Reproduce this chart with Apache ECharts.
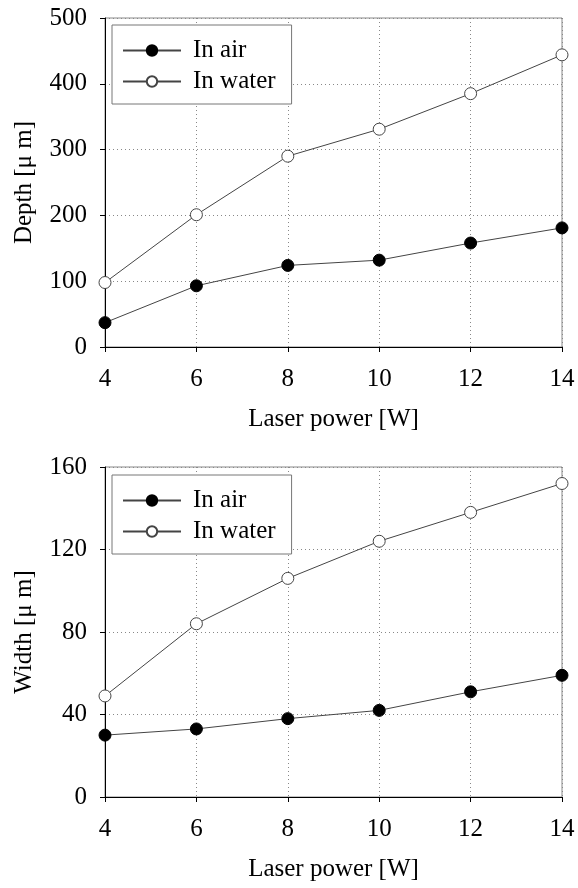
<!DOCTYPE html>
<html>
<head>
<meta charset="utf-8">
<script src="https://cdn.jsdelivr.net/npm/echarts@6/dist/echarts.min.js"></script>
<style>
  html, body { margin: 0; padding: 0; background: #fff; }
  #vis { width: 578px; height: 888px; }
</style>
</head>
<body>
<div id="vis"></div>
<script>
const power = [4, 6, 8, 10, 12, 14]
const depthAir = [37, 93, 124, 132, 158, 181]
const depthWater = [98, 201, 290, 331, 385, 444]
const widthAir = [30, 33, 38, 42, 51, 59]
const widthWater = [49, 84, 106, 124, 138, 152]

const font = 'Liberation Serif'
const fontSize = 25

function pairs (ys) {
  return power.map((x, i) => [x, ys[i]])
}

function xAxis (gridIndex) {
  return {
    gridIndex,
    type: 'value',
    min: 4,
    max: 14,
    interval: 2,
    name: 'Laser power [W]',
    nameLocation: 'middle',
    nameGap: 60,
    nameTextStyle: { fontFamily: font, fontSize, color: '#000' },
    axisLine: { lineStyle: { color: '#000', width: 1 } },
    axisTick: { show: true, length: 5, lineStyle: { color: '#000' } },
    axisLabel: { fontFamily: font, fontSize, color: '#000', margin: 20 },
    splitLine: { show: true, lineStyle: { color: '#888', type: [1, 3], width: 1 } }
  }
}

function yAxis (gridIndex, name, max, interval) {
  return {
    gridIndex,
    type: 'value',
    min: 0,
    max,
    interval,
    name,
    nameLocation: 'middle',
    nameGap: 68,
    nameTextStyle: { fontFamily: font, fontSize, color: '#000' },
    axisLine: { show: true, lineStyle: { color: '#000', width: 1 } },
    axisTick: { show: true, length: 5, lineStyle: { color: '#000' } },
    axisLabel: { fontFamily: font, fontSize, color: '#000', margin: 18 },
    splitLine: { show: true, lineStyle: { color: '#888', type: [1, 3], width: 1 } }
  }
}

function legend (top) {
  return {
    orient: 'vertical',
    left: 112,
    top,
    data: ['In air', 'In water'],
    itemWidth: 58,
    itemHeight: 13,
    itemGap: 6,
    padding: [13, 16, 10, 10],
    borderColor: '#777',
    borderWidth: 1,
    backgroundColor: '#fff',
    textStyle: { fontFamily: font, fontSize, color: '#000', padding: [0, 0, 0, 7] }
  }
}

function series (name, idx, ys, filled) {
  return {
    name,
    type: 'line',
    xAxisIndex: idx,
    yAxisIndex: idx,
    data: pairs(ys),
    symbol: 'circle',
    symbolSize: 12,
    lineStyle: { color: '#444', width: 1 },
    itemStyle: filled
      ? { color: '#000', borderColor: '#000', borderWidth: 1 }
      : { color: '#fff', borderColor: '#444', borderWidth: 1 },
    z: filled ? 3 : 2
  }
}

const chart = echarts.init(document.getElementById('vis'), null, { renderer: 'canvas' })

chart.setOption({
  animation: false,
  textStyle: { fontFamily: font },
  grid: [
    { left: 105, top: 18, width: 457, height: 329, show: true, borderColor: '#888', borderWidth: 1 },
    { left: 105, top: 467, width: 457, height: 330, show: true, borderColor: '#888', borderWidth: 1 }
  ],
  legend: [legend(25), legend(475)],
  xAxis: [xAxis(0), xAxis(1)],
  yAxis: [
    yAxis(0, 'Depth [μ m]', 500, 100),
    yAxis(1, 'Width [μ m]', 160, 40)
  ],
  series: [
    series('In air', 0, depthAir, true),
    series('In water', 0, depthWater, false),
    series('In air', 1, widthAir, true),
    series('In water', 1, widthWater, false)
  ]
})
</script>
</body>
</html>
